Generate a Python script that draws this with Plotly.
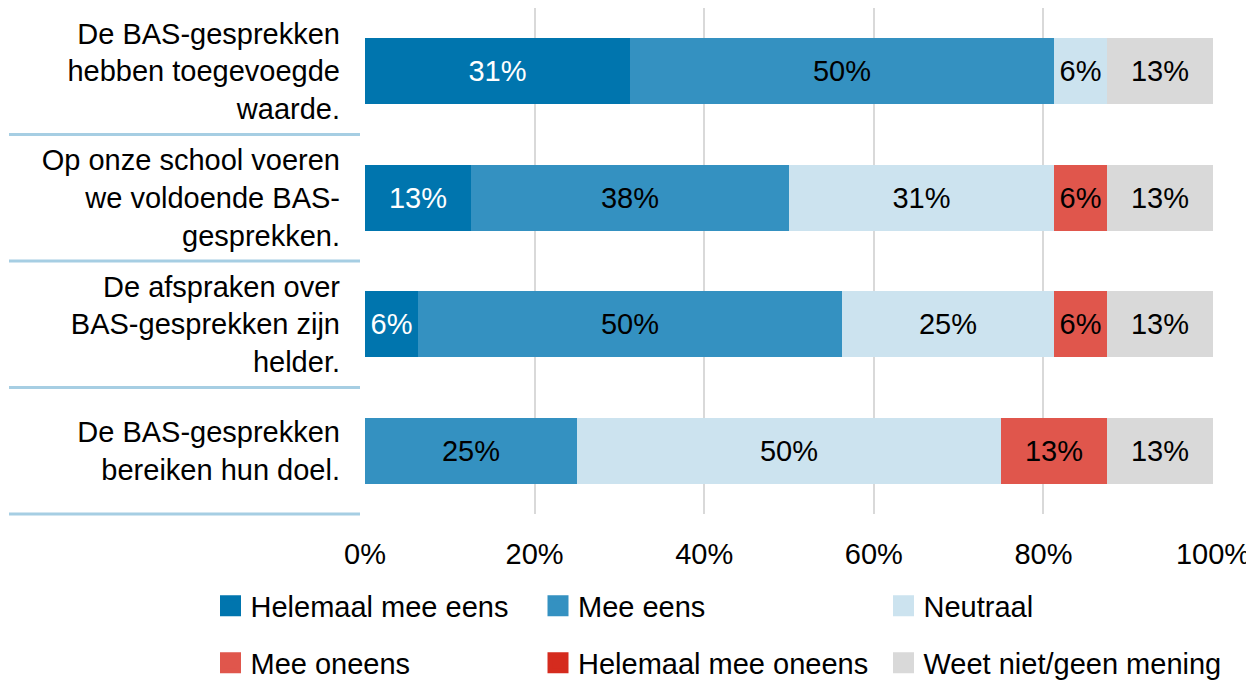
import plotly.graph_objects as go

# ---- data ----
statements = [
    "De BAS-gesprekken<br>hebben toegevoegde<br>waarde.",
    "Op onze school voeren<br>we voldoende BAS-<br>gesprekken.",
    "De afspraken over<br>BAS-gesprekken zijn<br>helder.",
    "De BAS-gesprekken<br>bereiken hun doel.",
]
series_names = ["Helemaal mee eens", "Mee eens", "Neutraal",
                "Mee oneens", "Helemaal mee oneens", "Weet niet/geen mening"]
helemaal_eens = [31.25, 12.5, 6.25, 0]
mee_eens = [50, 37.5, 50, 25]
neutraal = [6.25, 31.25, 25, 50]
mee_oneens = [0, 6.25, 6.25, 12.5]
helemaal_oneens = [0, 0, 0, 0]
weet_niet = [12.5, 12.5, 12.5, 12.5]
tick_values = [0, 20, 40, 60, 80, 100]
tick_labels = ["0%", "20%", "40%", "60%", "80%", "100%"]

series_values = [helemaal_eens, mee_eens, neutraal, mee_oneens, helemaal_oneens, weet_niet]
colors = ["#0075AE", "#3491C1", "#CCE3EF", "#E0564C", "#D52B1E", "#D9D9D9"]
text_colors = ["white", "black", "black", "black", "white", "black"]

FONT = "Arial, 'Liberation Sans', sans-serif"
FS = 29

fig = go.Figure()
for name, vals, col, tcol in zip(series_names, series_values, colors, text_colors):
    labels = [f"{int(v + 0.5)}%" if v > 0 else "" for v in vals]
    fig.add_trace(go.Bar(
        y=statements, x=vals, orientation="h", name=name,
        marker=dict(color=col, line=dict(width=0)),
        text=labels, textposition="inside", insidetextanchor="middle",
        textfont=dict(color=tcol, size=FS, family=FONT),
        constraintext="none", showlegend=False, hoverinfo="skip",
    ))

# page is drawn with an 8px body margin, so the figure is sized to fit the window
W, H = 1246, 673
legend_pos = [(222.5, 598), (550, 598), (895.5, 598),
              (222.5, 655), (550, 655), (895.5, 655)]
legend_layouts = {}
for i, (name, col) in enumerate(zip(series_names, colors)):
    key = "legend" if i == 0 else f"legend{i + 1}"
    fig.add_trace(go.Scatter(
        x=[None], y=[None], mode="markers", name=name,
        marker=dict(symbol="square", size=22, color=col, line=dict(width=5, color=col)),
        legend=key, showlegend=True,
    ))
    cx, cy = legend_pos[i]
    legend_layouts[key] = dict(
        x=(cx - 20) / W, y=1 - cy / H, xref="container", yref="container",
        xanchor="left", yanchor="middle", orientation="h",
        itemsizing="trace",
        font=dict(size=FS, family=FONT, color="black"),
        bgcolor="rgba(0,0,0,0)", borderwidth=0,
        itemclick=False, itemdoubleclick=False,
    )

# separators between statements in the label column
PL, PW = 357, 848
shapes = []
n = len(statements)
for i in range(n):
    yy = 1 - (i + 1) / n
    shapes.append(dict(type="line", xref="paper", yref="paper",
                       x0=(1 - PL) / PW, x1=(352 - PL) / PW, y0=yy, y1=yy,
                       line=dict(color="#A6CEE3", width=3)))

fig.update_layout(
    width=W, height=H, barmode="stack", bargap=0.48,
    margin=dict(l=PL, r=W - PL - PW, t=0, b=167, pad=0),
    paper_bgcolor="white", plot_bgcolor="white",
    font=dict(family=FONT, size=FS, color="black"),
    shapes=shapes,
    xaxis=dict(range=[0, 100], tickvals=tick_values, ticktext=tick_labels,
               showgrid=True, gridcolor="#D9D9D9", gridwidth=1.5,
               zeroline=False, showline=False, ticks="",
               tickfont=dict(size=FS, family=FONT, color="black"),
               ticklabelstandoff=20, fixedrange=True),
    yaxis=dict(autorange="reversed", showgrid=False, zeroline=False,
               showline=False, ticks="", ticklabelstandoff=24,
               tickfont=dict(size=FS, family=FONT, color="black"),
               fixedrange=True),
    **legend_layouts,
)

fig.write_html("out.html", config={"displayModeBar": False})
